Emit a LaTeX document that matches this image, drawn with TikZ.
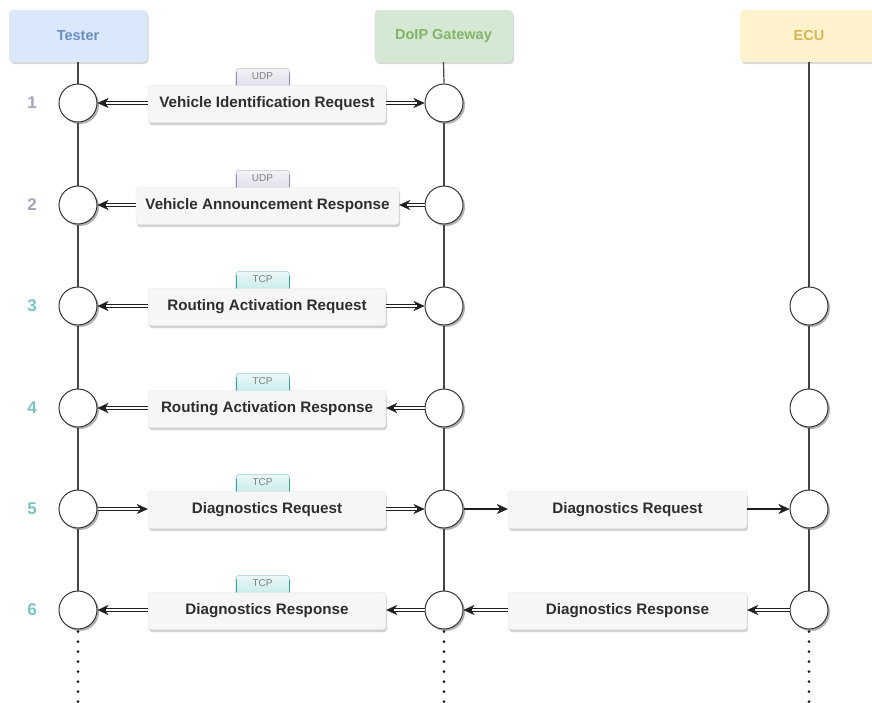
\documentclass[tikz,border=0pt]{standalone}
\usepackage{fontspec}
\setmainfont{Liberation Sans}
\usetikzlibrary{arrows.meta,shadows}

\definecolor{testerfill}{HTML}{DAE8FC}
\definecolor{testertext}{HTML}{6C8EBF}
\definecolor{gwfill}{HTML}{D5E8D4}
\definecolor{gwtext}{HTML}{82B366}
\definecolor{ecufill}{HTML}{FFF2CC}
\definecolor{ecutext}{HTML}{D6B656}
\definecolor{udpfill}{HTML}{DCDCE8}
\definecolor{udpedge}{HTML}{8E8EB0}
\definecolor{tcpfill}{HTML}{C4EAEA}
\definecolor{tcpedge}{HTML}{3F9C9C}
\definecolor{numudp}{HTML}{A4A4BA}
\definecolor{numtcp}{HTML}{7CC2C2}
\definecolor{msgfill}{HTML}{F6F6F6}
\definecolor{lifeline}{HTML}{444444}

\begin{document}
\begin{tikzpicture}[x=1pt,y=-1pt,
  head/.style={rounded corners=4pt, minimum width=138pt, minimum height=52pt,
    font=\fontsize{14.5}{16}\selectfont\bfseries,
    drop shadow={shadow xshift=1.5pt, shadow yshift=-2pt, opacity=0.3}},
  dot/.style={circle, minimum size=38pt, inner sep=0pt, fill=white,
    draw=black!80, line width=1pt,
    drop shadow={shadow xshift=2pt, shadow yshift=-2pt, opacity=0.6}},
  msg/.style={rounded corners=3pt, minimum height=37pt, inner sep=0pt,
    fill=msgfill, draw=black!12, line width=0.4pt, text=black!82,
    font=\fontsize{15.2}{17}\selectfont\bfseries,
    drop shadow={shadow xshift=1pt, shadow yshift=-2.5pt, opacity=0.35}},
  num/.style={font=\fontsize{17}{19}\selectfont\bfseries},
  tagtext/.style={font=\fontsize{10}{11}\selectfont, text=black!50, inner sep=0pt},
  life/.style={draw=lifeline, line width=1.2pt},
  lifedots/.style={draw=black!90, line width=3pt, line cap=round,
    dash pattern=on 0pt off 10pt, dash phase=-2pt},
  dbl/.style={draw=white, line width=1.5pt, shorten >=8pt,
    preaction={draw=black!88, line width=3.7pt, shorten >=0pt,
      -{Stealth[length=11pt, width=10pt, inset=3.5pt, line width=0.3pt]}}},
  sgl/.style={draw=black!88, line width=1.5pt,
    -{Stealth[length=11pt, width=10pt, inset=3.5pt, line width=0.3pt]}}
]
\useasboundingbox (0,0) rectangle (872,702);
\fill[white] (0,0) rectangle (872,702);

% participants
\node[head, fill=testerfill, text=testertext] (tester) at (78,36) {Tester};
\node[head, fill=gwfill, text=gwtext] (gw) at (443.5,36) {DoIP Gateway};
\node[head, fill=ecufill, text=ecutext] (ecu) at (809,36) {ECU};

% activation circles on the lifelines
\foreach \i/\y in {1/103,2/205,3/306,4/408,5/509,6/610}{
  \node[dot] (T\i) at (78,\y) {};
  \node[dot] (G\i) at (444,\y) {};
}
\foreach \i/\y in {3/306,4/408,5/509,6/610}{
  \node[dot] (E\i) at (809,\y) {};
}

% lifelines
\draw[life] (tester.south) -- (T1.north);
\draw[life] (gw.south) -- (G1.north);
\foreach \a/\b in {1/2,2/3,3/4,4/5,5/6}{
  \draw[life] (T\a.south) -- (T\b.north);
  \draw[life] (G\a.south) -- (G\b.north);
}
\draw[life] (ecu.south) -- (E3.north);
\foreach \a/\b in {3/4,4/5,5/6}{
  \draw[life] (E\a.south) -- (E\b.north);
}
\coordinate (Tend) at (78,702);
\coordinate (Gend) at (444,702);
\coordinate (Eend) at (809,702);
\draw[lifedots] (T6.south) -- (Tend);
\draw[lifedots] (G6.south) -- (Gend);
\draw[lifedots] (E6.south) -- (Eend);

% step numbers
\node[num, text=numudp] (n1) at (32,103) {1};
\node[num, text=numudp] (n2) at (32,205) {2};
\node[num, text=numtcp] (n3) at (32,306) {3};
\node[num, text=numtcp] (n4) at (32,408) {4};
\node[num, text=numtcp] (n5) at (32,509) {5};
\node[num, text=numtcp] (n6) at (32,610) {6};

% transport tabs above the messages
\foreach \i/\y/\kind/\f/\e in {1/103/UDP/udpfill/udpedge,2/205/UDP/udpfill/udpedge,
    3/306/TCP/tcpfill/tcpedge,4/408/TCP/tcpfill/tcpedge,
    5/509/TCP/tcpfill/tcpedge,6/610/TCP/tcpfill/tcpedge}{
  \shade[top color=\f!35!white, bottom color=\f, rounded corners=3pt]
    (235.5,\y-14) |- (290,\y-35) -- (290,\y-14) -- cycle;
  \draw[\e, line width=1pt, rounded corners=3pt]
    (236,\y-14) -- (236,\y-31) (289.5,\y-31) -- (289.5,\y-14);
  \draw[\e!50!white, line width=0.5pt, rounded corners=3pt]
    (236,\y-30) |- (289.5,\y-34.7) -- (289.5,\y-30);
  \node[tagtext] (tag\i) at (262.5,\y-26.5) {\kind};
}

% messages
\node[msg, minimum width=238pt] (M1) at (267,104) {Vehicle Identification Request};
\node[msg, minimum width=263pt] (M2) at (267.5,206) {Vehicle Announcement Response};
\node[msg, minimum width=238pt] (M3) at (267,307) {Routing Activation Request};
\node[msg, minimum width=238pt] (M4) at (267,409) {Routing Activation Response};
\node[msg, minimum width=238pt] (M5) at (267,510) {Diagnostics Request};
\node[msg, minimum width=238pt] (M6) at (267,611) {Diagnostics Response};
\node[msg, minimum width=239pt] (N5) at (627.5,510) {Diagnostics Request};
\node[msg, minimum width=239pt] (N6) at (627.5,611) {Diagnostics Response};

% connectors
\draw[dbl] (M1.west |- T1) -- (T1.east);
\draw[dbl] (M1.east |- G1) -- (G1.west);

\draw[dbl] (G2.west) -- (M2.east |- G2);
\draw[dbl] (M2.west |- T2) -- (T2.east);

\draw[dbl] (M3.west |- T3) -- (T3.east);
\draw[dbl] (M3.east |- G3) -- (G3.west);

\draw[dbl] (G4.west) -- (M4.east |- G4);
\draw[dbl] (M4.west |- T4) -- (T4.east);

\draw[dbl] (T5.east) -- (M5.west |- T5);
\draw[dbl] (M5.east |- G5) -- (G5.west);
\draw[sgl] (G5.east) -- (N5.west |- G5);
\draw[sgl] (N5.east |- E5) -- (E5.west);

\draw[dbl] (E6.west) -- (N6.east |- E6);
\draw[dbl] (N6.west |- G6) -- (G6.east);
\draw[dbl] (G6.west) -- (M6.east |- G6);
\draw[dbl] (M6.west |- T6) -- (T6.east);
\end{tikzpicture}
\end{document}
